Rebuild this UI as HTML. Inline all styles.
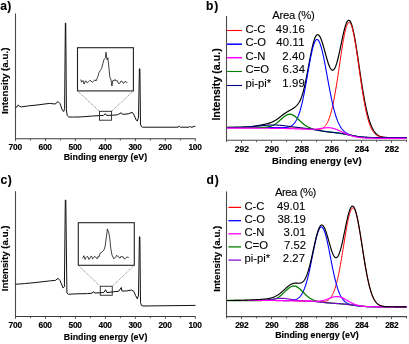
<!DOCTYPE html>
<html><head><meta charset="utf-8"><style>
html,body{margin:0;padding:0;background:#fff;}
svg{display:block;font-family:"Liberation Sans",sans-serif;will-change:transform;}
text[font-weight=bold]{stroke:#000;stroke-width:0.15px;}
text[font-weight=normal]{stroke:#000;stroke-width:0.1px;}
</style></head><body>
<svg width="409" height="344" viewBox="0 0 409 344">
<rect width="409" height="344" fill="#fff"/>
<line x1="15.5" y1="13.5" x2="15.5" y2="139.25" stroke="#4a4a4a" stroke-width="1.1" />
<line x1="15.2" y1="138.75" x2="195.6" y2="138.75" stroke="#3a3a3a" stroke-width="1.1" />
<line x1="15.5" y1="138.75" x2="15.5" y2="141.15" stroke="#4a4a4a" stroke-width="0.9" />
<line x1="30.48" y1="138.75" x2="30.48" y2="140.45" stroke="#4a4a4a" stroke-width="0.9" />
<line x1="45.47" y1="138.75" x2="45.47" y2="141.15" stroke="#4a4a4a" stroke-width="0.9" />
<line x1="60.45" y1="138.75" x2="60.45" y2="140.45" stroke="#4a4a4a" stroke-width="0.9" />
<line x1="75.43" y1="138.75" x2="75.43" y2="141.15" stroke="#4a4a4a" stroke-width="0.9" />
<line x1="90.42" y1="138.75" x2="90.42" y2="140.45" stroke="#4a4a4a" stroke-width="0.9" />
<line x1="105.4" y1="138.75" x2="105.4" y2="141.15" stroke="#4a4a4a" stroke-width="0.9" />
<line x1="120.38" y1="138.75" x2="120.38" y2="140.45" stroke="#4a4a4a" stroke-width="0.9" />
<line x1="135.37" y1="138.75" x2="135.37" y2="141.15" stroke="#4a4a4a" stroke-width="0.9" />
<line x1="150.35" y1="138.75" x2="150.35" y2="140.45" stroke="#4a4a4a" stroke-width="0.9" />
<line x1="165.33" y1="138.75" x2="165.33" y2="141.15" stroke="#4a4a4a" stroke-width="0.9" />
<line x1="180.32" y1="138.75" x2="180.32" y2="140.45" stroke="#4a4a4a" stroke-width="0.9" />
<line x1="195.3" y1="138.75" x2="195.3" y2="141.15" stroke="#4a4a4a" stroke-width="0.9" />
<text x="15.2" y="149.9" font-size="8.4" font-weight="bold" text-anchor="middle" fill="#000" letter-spacing="-0.25">700</text>
<text x="45.17" y="149.9" font-size="8.4" font-weight="bold" text-anchor="middle" fill="#000" letter-spacing="-0.25">600</text>
<text x="75.13" y="149.9" font-size="8.4" font-weight="bold" text-anchor="middle" fill="#000" letter-spacing="-0.25">500</text>
<text x="105.1" y="149.9" font-size="8.4" font-weight="bold" text-anchor="middle" fill="#000" letter-spacing="-0.25">400</text>
<text x="135.07" y="149.9" font-size="8.4" font-weight="bold" text-anchor="middle" fill="#000" letter-spacing="-0.25">300</text>
<text x="165.03" y="149.9" font-size="8.4" font-weight="bold" text-anchor="middle" fill="#000" letter-spacing="-0.25">200</text>
<text x="195" y="149.9" font-size="8.4" font-weight="bold" text-anchor="middle" fill="#000" letter-spacing="-0.25">100</text>
<text x="105.45" y="160.25" font-size="8.85" font-weight="bold" text-anchor="middle" fill="#000">Binding energy (eV)</text>
<text transform="translate(8.4,113.9) rotate(-90)" font-size="9.8" font-weight="bold" fill="#000">Intensity (a.u.)</text>
<text x="0.2" y="9.6" font-size="12" font-weight="bold" text-anchor="start" fill="#000" letter-spacing="0.3">a)</text>
<polyline points="15.5,107.3 17,106.9 18.25,104.9 19.5,106.3 21.4,106.9 28.25,105.9 37,105 49.5,103.4 55.1,104 58.1,101.6 60,103.5 62.5,110.6 63.75,111.5 64.6,108.5 65.35,23 65.75,23 66.4,110 67.25,115.6 68.75,116.9 72.5,117.1 81.25,116.9 92.5,116 99.4,115.6 103.5,115.4 105.4,113.7 106.5,115.4 112.5,115.25 117.5,114.75 121.25,112.75 122.5,114.4 128.75,113.75 132.25,112.25 134,115 136.3,120.3 137.4,121 138.5,117 139.4,68.8 139.9,68.8 140.5,124 141.3,126.5 142.5,127.2 160,127.2 178,127.2 179.2,126.2 180.4,127.2 189,127.2 189.8,126.2 190.8,127.2 192,127.3 194.6,126.1 195.5,127" fill="none" stroke="#111" stroke-width="1.0" stroke-linejoin="round" />
<rect x="77.5" y="47.7" width="55.9" height="43.2" fill="none" stroke="#222" stroke-width="1.1"/>
<polyline points="80.75,79.5 81.6,82.25 82.9,80.4 84.1,84.1 85.4,81 86.33,81.11 87.25,82.9 88.5,81.79 89.75,80.4 91,80.91 92.25,82.25 93.5,81.33 94.75,79.75 96,81 97.9,76.6 99.1,72.25 100.4,70.4 101.6,68.5 102.9,63.5 104.1,59.1 105.4,57.9 106,52.25 107,59.75 107.9,57.9 108.75,66 109.75,76.6 111,79.75 111.9,86 112.9,80.4 113.93,81 114.97,79.41 116,81 117.25,80.69 118.5,83.5 119.75,83.33 121,81 122.25,81.48 123.5,83.5 124.75,81.7 126,81.6 127.5,83.1" fill="none" stroke="#111" stroke-width="0.8" stroke-linejoin="round" />
<rect x="99.5" y="111.3" width="12.1" height="8.9" fill="none" stroke="#222" stroke-width="0.9"/>
<line x1="77.5" y1="90.9" x2="99.5" y2="111.3" stroke="#666" stroke-width="0.7" stroke-dasharray="1.2 0.8"/>
<line x1="133.4" y1="90.9" x2="111.6" y2="111.3" stroke="#666" stroke-width="0.7" stroke-dasharray="1.2 0.8"/>
<line x1="15.5" y1="191.2" x2="15.5" y2="317" stroke="#4a4a4a" stroke-width="1.1" />
<line x1="15.2" y1="316.5" x2="195.6" y2="316.5" stroke="#3a3a3a" stroke-width="1.1" />
<line x1="15.5" y1="316.5" x2="15.5" y2="318.9" stroke="#4a4a4a" stroke-width="0.9" />
<line x1="30.48" y1="316.5" x2="30.48" y2="318.2" stroke="#4a4a4a" stroke-width="0.9" />
<line x1="45.47" y1="316.5" x2="45.47" y2="318.9" stroke="#4a4a4a" stroke-width="0.9" />
<line x1="60.45" y1="316.5" x2="60.45" y2="318.2" stroke="#4a4a4a" stroke-width="0.9" />
<line x1="75.43" y1="316.5" x2="75.43" y2="318.9" stroke="#4a4a4a" stroke-width="0.9" />
<line x1="90.42" y1="316.5" x2="90.42" y2="318.2" stroke="#4a4a4a" stroke-width="0.9" />
<line x1="105.4" y1="316.5" x2="105.4" y2="318.9" stroke="#4a4a4a" stroke-width="0.9" />
<line x1="120.38" y1="316.5" x2="120.38" y2="318.2" stroke="#4a4a4a" stroke-width="0.9" />
<line x1="135.37" y1="316.5" x2="135.37" y2="318.9" stroke="#4a4a4a" stroke-width="0.9" />
<line x1="150.35" y1="316.5" x2="150.35" y2="318.2" stroke="#4a4a4a" stroke-width="0.9" />
<line x1="165.33" y1="316.5" x2="165.33" y2="318.9" stroke="#4a4a4a" stroke-width="0.9" />
<line x1="180.32" y1="316.5" x2="180.32" y2="318.2" stroke="#4a4a4a" stroke-width="0.9" />
<line x1="195.3" y1="316.5" x2="195.3" y2="318.9" stroke="#4a4a4a" stroke-width="0.9" />
<text x="15.2" y="327.5" font-size="8.4" font-weight="bold" text-anchor="middle" fill="#000" letter-spacing="-0.25">700</text>
<text x="45.17" y="327.5" font-size="8.4" font-weight="bold" text-anchor="middle" fill="#000" letter-spacing="-0.25">600</text>
<text x="75.13" y="327.5" font-size="8.4" font-weight="bold" text-anchor="middle" fill="#000" letter-spacing="-0.25">500</text>
<text x="105.1" y="327.5" font-size="8.4" font-weight="bold" text-anchor="middle" fill="#000" letter-spacing="-0.25">400</text>
<text x="135.07" y="327.5" font-size="8.4" font-weight="bold" text-anchor="middle" fill="#000" letter-spacing="-0.25">300</text>
<text x="165.03" y="327.5" font-size="8.4" font-weight="bold" text-anchor="middle" fill="#000" letter-spacing="-0.25">200</text>
<text x="195" y="327.5" font-size="8.4" font-weight="bold" text-anchor="middle" fill="#000" letter-spacing="-0.25">100</text>
<text x="105.6" y="339.5" font-size="8.85" font-weight="bold" text-anchor="middle" fill="#000">Binding energy (eV)</text>
<text transform="translate(8.4,291.2) rotate(-90)" font-size="9.7" font-weight="bold" fill="#000">Intensity (a.u.)</text>
<text x="0.4" y="183.8" font-size="12" font-weight="bold" text-anchor="start" fill="#000" letter-spacing="0.6">c)</text>
<polyline points="15.5,284.25 24.5,283.6 37,282.4 49.5,280.9 55.4,280.4 58.1,278.25 60,280.5 63.1,288 64.4,286.75 65.3,200 65.8,200 66.9,293 68.5,294.25 75,293.9 87.5,293.6 92,293.2 93.1,291.75 95,293 100,292.75 103.75,292.5 105.6,289.75 106.9,292.6 112.5,291.9 118.75,291.25 121.25,287.5 121.9,291 126.25,291 131.25,290 133.75,291.25 135.6,295.6 137.4,298.9 138.5,295 139.4,236.8 139.9,236.8 140.5,302.5 141.4,305.4 143,306 195.5,305.4" fill="none" stroke="#111" stroke-width="1.0" stroke-linejoin="round" />
<rect x="78.3" y="222.7" width="56" height="42.6" fill="none" stroke="#222" stroke-width="1.1"/>
<polyline points="82.6,258.25 83.9,255.75 85.1,259.5 86.05,257.39 87,256.4 87.95,256.83 88.9,259.5 89.83,258.43 90.75,256.4 91.67,256.28 92.6,258.9 93.55,257.76 94.5,256.4 95.75,257.22 97,258.9 97.95,256.54 98.9,257 100.1,253.25 102,252 103.9,250.1 105.1,246.4 106.4,237 107.4,228.9 108.9,233.25 109.75,238.25 110.75,248.25 112,255.1 113.9,258.9 114.83,257.97 115.75,257 116.67,255.22 117.6,256.4 118.85,257.11 120.1,258.25 121.05,256.25 122,257 123.25,256.82 124.5,259.25 125.75,257.88 127,257 128.75,257.5" fill="none" stroke="#111" stroke-width="0.8" stroke-linejoin="round" />
<rect x="100.25" y="286.25" width="12" height="9" fill="none" stroke="#222" stroke-width="0.9"/>
<line x1="78.3" y1="265.3" x2="100.25" y2="286.25" stroke="#666" stroke-width="0.7" stroke-dasharray="1.2 0.8"/>
<line x1="134.3" y1="265.3" x2="112.25" y2="286.25" stroke="#666" stroke-width="0.7" stroke-dasharray="1.2 0.8"/>
<polyline points="226.5,127.48 227,127.48 227.5,127.48 228,127.48 228.5,127.47 229,127.47 229.5,127.47 230,127.46 230.5,127.46 231,127.46 231.5,127.45 232,127.45 232.5,127.44 233,127.44 233.5,127.43 234,127.43 234.5,127.42 235,127.41 235.5,127.4 236,127.39 236.5,127.38 237,127.37 237.5,127.36 238,127.35 238.5,127.34 239,127.33 239.5,127.31 240,127.3 240.5,127.28 241,127.26 241.5,127.24 242,127.22 242.5,127.2 243,127.18 243.5,127.16 244,127.13 244.5,127.1 245,127.07 245.5,127.04 246,127.01 246.5,126.98 247,126.94 247.5,126.91 248,126.87 248.5,126.82 249,126.78 249.5,126.74 250,126.69 250.5,126.64 251,126.59 251.5,126.53 252,126.47 252.5,126.42 253,126.35 253.5,126.29 254,126.22 254.5,126.16 255,126.09 255.5,126.01 256,125.94 256.5,125.86 257,125.78 257.5,125.7 258,125.62 258.5,125.53 259,125.44 259.5,125.35 260,125.26 260.5,125.17 261,125.07 261.5,124.97 262,124.87 262.5,124.77 263,124.67 263.5,124.56 264,124.45 264.5,124.34 265,124.23 265.5,124.11 266,123.99 266.5,123.86 267,123.73 267.5,123.6 268,123.46 268.5,123.31 269,123.16 269.5,123 270,122.83 270.5,122.65 271,122.46 271.5,122.27 272,122.06 272.5,121.84 273,121.61 273.5,121.36 274,121.11 274.5,120.84 275,120.55 275.5,120.26 276,119.95 276.5,119.62 277,119.29 277.5,118.94 278,118.58 278.5,118.21 279,117.83 279.5,117.45 280,117.06 280.5,116.67 281,116.27 281.5,115.87 282,115.48 282.5,115.09 283,114.7 283.5,114.33 284,113.96 284.5,113.6 285,113.25 285.5,112.91 286,112.59 286.5,112.27 287,111.97 287.5,111.68 288,111.39 288.5,111.11 289,110.84 289.5,110.56 290,110.29 290.5,110.01 291,109.73 291.5,109.44 292,109.14 292.5,108.83 293,108.5 293.5,108.16 294,107.81 294.5,107.43 295,107.04 295.5,106.62 296,106.17 296.5,105.68 297,105.16 297.5,104.58 298,103.95 298.5,103.26 299,102.48 299.5,101.63 300,100.67 300.5,99.62 301,98.44 301.5,97.15 302,95.73 302.5,94.17 303,92.49 303.5,90.66 304,88.71 304.5,86.63 305,84.42 305.5,82.11 306,79.69 306.5,77.18 307,74.6 307.5,71.95 308,69.27 308.5,66.56 309,63.84 309.5,61.14 310,58.47 310.5,55.85 311,53.31 311.5,50.86 312,48.52 312.5,46.31 313,44.25 313.5,42.36 314,40.65 314.5,39.13 315,37.82 315.5,36.74 316,35.88 316.5,35.25 317,34.86 317.5,34.7 318,34.74 318.5,34.98 319,35.42 319.5,36.04 320,36.85 320.5,37.82 321,38.96 321.5,40.24 322,41.66 322.5,43.2 323,44.83 323.5,46.55 324,48.33 324.5,50.16 325,52.01 325.5,53.86 326,55.7 326.5,57.51 327,59.26 327.5,60.93 328,62.52 328.5,64 329,65.35 329.5,66.56 330,67.61 330.5,68.5 331,69.21 331.5,69.74 332,70.07 332.5,70.19 333,70.12 333.5,69.83 334,69.34 334.5,68.64 335,67.74 335.5,66.64 336,65.35 336.5,63.88 337,62.23 337.5,60.43 338,58.49 338.5,56.42 339,54.24 339.5,51.96 340,49.62 340.5,47.23 341,44.81 341.5,42.38 342,39.98 342.5,37.61 343,35.31 343.5,33.1 344,31 344.5,29.03 345,27.21 345.5,25.57 346,24.13 346.5,22.88 347,21.87 347.5,21.09 348,20.56 348.5,20.28 349,20.26 349.5,20.52 350,21.03 350.5,21.82 351,22.87 351.5,24.17 352,25.73 352.5,27.52 353,29.54 353.5,31.78 354,34.21 354.5,36.83 355,39.61 355.5,42.54 356,45.59 356.5,48.76 357,52.01 357.5,55.33 358,58.71 358.5,62.11 359,65.53 359.5,68.94 360,72.34 360.5,75.7 361,79.02 361.5,82.28 362,85.47 362.5,88.57 363,91.59 363.5,94.51 364,97.33 364.5,100.04 365,102.65 365.5,105.14 366,107.51 366.5,109.77 367,111.92 367.5,113.95 368,115.87 368.5,117.67 369,119.37 369.5,120.96 370,122.44 370.5,123.83 371,125.12 371.5,126.32 372,127.43 372.5,128.45 373,129.39 373.5,130.26 374,131.05 374.5,131.77 375,132.43 375.5,133.03 376,133.57 376.5,134.06 377,134.5 377.5,134.89 378,135.24 378.5,135.55 379,135.83 379.5,136.07 380,136.29 380.5,136.48 381,136.64 381.5,136.79 382,136.91 382.5,137.02 383,137.11 383.5,137.19 384,137.26 384.5,137.31 385,137.36 385.5,137.4 386,137.44 386.5,137.47 387,137.49 387.5,137.51 388,137.53 388.5,137.54 389,137.55 389.5,137.56 390,137.57 390.5,137.58 391,137.58 391.5,137.58 392,137.59 392.5,137.59 393,137.59 393.5,137.59 394,137.6 394.5,137.6 395,137.6 395.5,137.6 396,137.6 396.5,137.6 397,137.6 397.5,137.6 398,137.6 398.5,137.6 399,137.6 399.5,137.6 400,137.6 400.5,137.6 401,137.6 401.5,137.6 402,137.6 402.5,137.6 403,137.6 403.5,137.6 404,137.6 404.5,137.6 405,137.6 405.5,137.6 406,137.6 406.5,137.6" fill="none" stroke="#000" stroke-width="1.2" stroke-linejoin="round" />
<polyline points="226.5,127.5 227,127.5 227.5,127.5 228,127.5 228.5,127.5 229,127.5 229.5,127.5 230,127.5 230.5,127.5 231,127.5 231.5,127.5 232,127.5 232.5,127.5 233,127.5 233.5,127.5 234,127.5 234.5,127.5 235,127.5 235.5,127.5 236,127.5 236.5,127.5 237,127.5 237.5,127.5 238,127.5 238.5,127.5 239,127.5 239.5,127.5 240,127.5 240.5,127.5 241,127.5 241.5,127.5 242,127.5 242.5,127.5 243,127.5 243.5,127.5 244,127.5 244.5,127.5 245,127.5 245.5,127.5 246,127.51 246.5,127.51 247,127.51 247.5,127.51 248,127.51 248.5,127.51 249,127.51 249.5,127.51 250,127.51 250.5,127.51 251,127.51 251.5,127.51 252,127.51 252.5,127.51 253,127.51 253.5,127.51 254,127.52 254.5,127.52 255,127.52 255.5,127.52 256,127.52 256.5,127.52 257,127.52 257.5,127.52 258,127.52 258.5,127.53 259,127.53 259.5,127.53 260,127.53 260.5,127.53 261,127.53 261.5,127.54 262,127.54 262.5,127.54 263,127.54 263.5,127.54 264,127.55 264.5,127.55 265,127.55 265.5,127.55 266,127.55 266.5,127.56 267,127.56 267.5,127.56 268,127.56 268.5,127.57 269,127.57 269.5,127.57 270,127.58 270.5,127.58 271,127.58 271.5,127.59 272,127.59 272.5,127.59 273,127.6 273.5,127.6 274,127.61 274.5,127.61 275,127.62 275.5,127.62 276,127.63 276.5,127.64 277,127.64 277.5,127.65 278,127.66 278.5,127.66 279,127.67 279.5,127.68 280,127.69 280.5,127.7 281,127.71 281.5,127.72 282,127.73 282.5,127.74 283,127.75 283.5,127.76 284,127.77 284.5,127.78 285,127.8 285.5,127.81 286,127.82 286.5,127.84 287,127.85 287.5,127.86 288,127.88 288.5,127.89 289,127.91 289.5,127.92 290,127.94 290.5,127.95 291,127.97 291.5,127.98 292,128 292.5,128.01 293,128.03 293.5,128.05 294,128.06 294.5,128.08 295,128.09 295.5,128.11 296,128.13 296.5,128.15 297,128.16 297.5,128.18 298,128.2 298.5,128.22 299,128.24 299.5,128.26 300,128.28 300.5,128.31 301,128.33 301.5,128.36 302,128.38 302.5,128.41 303,128.44 303.5,128.47 304,128.51 304.5,128.54 305,128.58 305.5,128.62 306,128.66 306.5,128.7 307,128.75 307.5,128.79 308,128.84 308.5,128.89 309,128.94 309.5,129 310,129.05 310.5,129.11 311,129.16 311.5,129.22 312,129.28 312.5,129.33 313,129.39 313.5,129.44 314,129.49 314.5,129.54 315,129.58 315.5,129.61 316,129.64 316.5,129.66 317,129.67 317.5,129.66 318,129.65 318.5,129.61 319,129.56 319.5,129.48 320,129.38 320.5,129.26 321,129.1 321.5,128.91 322,128.68 322.5,128.4 323,128.09 323.5,127.72 324,127.29 324.5,126.8 325,126.25 325.5,125.63 326,124.93 326.5,124.15 327,123.28 327.5,122.31 328,121.25 328.5,120.08 329,118.81 329.5,117.42 330,115.91 330.5,114.28 331,112.52 331.5,110.64 332,108.63 332.5,106.48 333,104.21 333.5,101.8 334,99.27 334.5,96.62 335,93.85 335.5,90.96 336,87.97 336.5,84.88 337,81.7 337.5,78.45 338,75.14 338.5,71.78 339,68.38 339.5,64.98 340,61.57 340.5,58.19 341,54.84 341.5,51.56 342,48.35 342.5,45.25 343,42.27 343.5,39.43 344,36.76 344.5,34.26 345,31.96 345.5,29.88 346,28.03 346.5,26.43 347,25.09 347.5,24.02 348,23.23 348.5,22.72 349,22.5 349.5,22.58 350,22.94 350.5,23.6 351,24.54 351.5,25.76 352,27.26 352.5,29.01 353,31 353.5,33.23 354,35.68 354.5,38.32 355,41.14 355.5,44.13 356,47.25 356.5,50.5 357,53.85 357.5,57.27 358,60.76 358.5,64.28 359,67.82 359.5,71.36 360,74.89 360.5,78.38 361,81.82 361.5,85.2 362,88.5 362.5,91.71 363,94.83 363.5,97.83 364,100.72 364.5,103.49 365,106.13 365.5,108.65 366,111.03 366.5,113.28 367,115.39 367.5,117.38 368,119.23 368.5,120.96 369,122.56 369.5,124.05 370,125.42 370.5,126.68 371,127.83 371.5,128.89 372,129.85 372.5,130.73 373,131.52 373.5,132.23 374,132.87 374.5,133.45 375,133.96 375.5,134.42 376,134.83 376.5,135.2 377,135.52 377.5,135.8 378,136.05 378.5,136.26 379,136.45 379.5,136.62 380,136.76 380.5,136.89 381,137 381.5,137.09 382,137.17 382.5,137.24 383,137.29 383.5,137.34 384,137.39 384.5,137.42 385,137.45 385.5,137.48 386,137.5 386.5,137.52 387,137.53 387.5,137.54 388,137.55 388.5,137.56 389,137.57 389.5,137.57 390,137.58 390.5,137.58 391,137.59 391.5,137.59 392,137.59 392.5,137.59 393,137.59 393.5,137.6 394,137.6 394.5,137.6 395,137.6 395.5,137.6 396,137.6 396.5,137.6 397,137.6 397.5,137.6 398,137.6 398.5,137.6 399,137.6 399.5,137.6 400,137.6 400.5,137.6 401,137.6 401.5,137.6 402,137.6 402.5,137.6 403,137.6 403.5,137.6 404,137.6 404.5,137.6 405,137.6 405.5,137.6 406,137.6 406.5,137.6" fill="none" stroke="#ff0000" stroke-width="1.0" stroke-linejoin="round" />
<polyline points="226.5,127.5 227,127.5 227.5,127.5 228,127.5 228.5,127.5 229,127.5 229.5,127.5 230,127.5 230.5,127.5 231,127.5 231.5,127.5 232,127.5 232.5,127.5 233,127.5 233.5,127.5 234,127.5 234.5,127.5 235,127.5 235.5,127.5 236,127.5 236.5,127.5 237,127.5 237.5,127.5 238,127.5 238.5,127.5 239,127.5 239.5,127.5 240,127.5 240.5,127.5 241,127.5 241.5,127.5 242,127.5 242.5,127.5 243,127.5 243.5,127.5 244,127.5 244.5,127.5 245,127.5 245.5,127.5 246,127.51 246.5,127.51 247,127.51 247.5,127.51 248,127.51 248.5,127.51 249,127.51 249.5,127.51 250,127.51 250.5,127.51 251,127.51 251.5,127.51 252,127.51 252.5,127.51 253,127.51 253.5,127.51 254,127.52 254.5,127.52 255,127.52 255.5,127.52 256,127.52 256.5,127.52 257,127.52 257.5,127.52 258,127.52 258.5,127.53 259,127.53 259.5,127.53 260,127.53 260.5,127.53 261,127.53 261.5,127.54 262,127.54 262.5,127.54 263,127.54 263.5,127.54 264,127.55 264.5,127.55 265,127.55 265.5,127.55 266,127.55 266.5,127.56 267,127.56 267.5,127.56 268,127.56 268.5,127.57 269,127.57 269.5,127.57 270,127.58 270.5,127.58 271,127.58 271.5,127.59 272,127.59 272.5,127.59 273,127.6 273.5,127.6 274,127.61 274.5,127.61 275,127.61 275.5,127.62 276,127.62 276.5,127.63 277,127.63 277.5,127.64 278,127.64 278.5,127.64 279,127.65 279.5,127.65 280,127.65 280.5,127.65 281,127.65 281.5,127.65 282,127.64 282.5,127.63 283,127.62 283.5,127.61 284,127.59 284.5,127.56 285,127.53 285.5,127.49 286,127.44 286.5,127.38 287,127.31 287.5,127.23 288,127.12 288.5,127.01 289,126.87 289.5,126.7 290,126.51 290.5,126.3 291,126.05 291.5,125.76 292,125.43 292.5,125.06 293,124.64 293.5,124.17 294,123.63 294.5,123.04 295,122.38 295.5,121.64 296,120.83 296.5,119.93 297,118.94 297.5,117.87 298,116.69 298.5,115.42 299,114.03 299.5,112.55 300,110.95 300.5,109.24 301,107.41 301.5,105.47 302,103.42 302.5,101.26 303,99 303.5,96.63 304,94.16 304.5,91.61 305,88.97 305.5,86.27 306,83.5 306.5,80.68 307,77.83 307.5,74.96 308,72.09 308.5,69.23 309,66.4 309.5,63.61 310,60.9 310.5,58.27 311,55.74 311.5,53.34 312,51.07 312.5,48.97 313,47.04 313.5,45.3 314,43.76 314.5,42.45 315,41.36 315.5,40.51 316,39.91 316.5,39.56 317,39.47 317.5,39.62 318,39.98 318.5,40.57 319,41.36 319.5,42.36 320,43.56 320.5,44.96 321,46.53 321.5,48.28 322,50.18 322.5,52.24 323,54.43 323.5,56.74 324,59.16 324.5,61.67 325,64.26 325.5,66.91 326,69.61 326.5,72.34 327,75.09 327.5,77.85 328,80.61 328.5,83.34 329,86.05 329.5,88.71 330,91.32 330.5,93.88 331,96.36 331.5,98.77 332,101.1 332.5,103.35 333,105.51 333.5,107.57 334,109.54 334.5,111.42 335,113.19 335.5,114.88 336,116.46 336.5,117.96 337,119.36 337.5,120.67 338,121.89 338.5,123.03 339,124.09 339.5,125.08 340,125.99 340.5,126.83 341,127.61 341.5,128.33 342,128.99 342.5,129.6 343,130.16 343.5,130.67 344,131.15 344.5,131.58 345,131.99 345.5,132.35 346,132.69 346.5,133.01 347,133.3 347.5,133.57 348,133.82 348.5,134.05 349,134.27 349.5,134.47 350,134.66 350.5,134.83 351,135 351.5,135.16 352,135.31 352.5,135.45 353,135.58 353.5,135.7 354,135.82 354.5,135.94 355,136.05 355.5,136.15 356,136.24 356.5,136.34 357,136.43 357.5,136.51 358,136.59 358.5,136.66 359,136.73 359.5,136.8 360,136.86 360.5,136.92 361,136.98 361.5,137.03 362,137.08 362.5,137.12 363,137.17 363.5,137.21 364,137.24 364.5,137.28 365,137.31 365.5,137.34 366,137.36 366.5,137.39 367,137.41 367.5,137.43 368,137.45 368.5,137.47 369,137.48 369.5,137.49 370,137.51 370.5,137.52 371,137.53 371.5,137.54 372,137.54 372.5,137.55 373,137.56 373.5,137.56 374,137.57 374.5,137.57 375,137.58 375.5,137.58 376,137.58 376.5,137.58 377,137.59 377.5,137.59 378,137.59 378.5,137.59 379,137.59 379.5,137.59 380,137.6 380.5,137.6 381,137.6 381.5,137.6 382,137.6 382.5,137.6 383,137.6 383.5,137.6 384,137.6 384.5,137.6 385,137.6 385.5,137.6 386,137.6 386.5,137.6 387,137.6 387.5,137.6 388,137.6 388.5,137.6 389,137.6 389.5,137.6 390,137.6 390.5,137.6 391,137.6 391.5,137.6 392,137.6 392.5,137.6 393,137.6 393.5,137.6 394,137.6 394.5,137.6 395,137.6 395.5,137.6 396,137.6 396.5,137.6 397,137.6 397.5,137.6 398,137.6 398.5,137.6 399,137.6 399.5,137.6 400,137.6 400.5,137.6 401,137.6 401.5,137.6 402,137.6 402.5,137.6 403,137.6 403.5,137.6 404,137.6 404.5,137.6 405,137.6 405.5,137.6 406,137.6 406.5,137.6" fill="none" stroke="#0000ff" stroke-width="1.1" stroke-linejoin="round" />
<polyline points="226.5,127.5 227,127.5 227.5,127.5 228,127.5 228.5,127.5 229,127.5 229.5,127.5 230,127.5 230.5,127.5 231,127.5 231.5,127.5 232,127.5 232.5,127.5 233,127.5 233.5,127.5 234,127.5 234.5,127.5 235,127.5 235.5,127.5 236,127.5 236.5,127.5 237,127.5 237.5,127.5 238,127.5 238.5,127.5 239,127.5 239.5,127.5 240,127.5 240.5,127.5 241,127.5 241.5,127.5 242,127.5 242.5,127.5 243,127.5 243.5,127.5 244,127.5 244.5,127.5 245,127.5 245.5,127.5 246,127.51 246.5,127.51 247,127.51 247.5,127.51 248,127.51 248.5,127.51 249,127.51 249.5,127.51 250,127.51 250.5,127.51 251,127.51 251.5,127.51 252,127.51 252.5,127.51 253,127.51 253.5,127.51 254,127.51 254.5,127.51 255,127.51 255.5,127.51 256,127.51 256.5,127.51 257,127.51 257.5,127.5 258,127.5 258.5,127.5 259,127.49 259.5,127.49 260,127.48 260.5,127.47 261,127.46 261.5,127.44 262,127.43 262.5,127.41 263,127.39 263.5,127.36 264,127.33 264.5,127.3 265,127.26 265.5,127.21 266,127.16 266.5,127.1 267,127.04 267.5,126.96 268,126.87 268.5,126.78 269,126.67 269.5,126.55 270,126.42 270.5,126.27 271,126.11 271.5,125.93 272,125.74 272.5,125.53 273,125.3 273.5,125.05 274,124.79 274.5,124.5 275,124.2 275.5,123.88 276,123.54 276.5,123.19 277,122.82 277.5,122.43 278,122.02 278.5,121.61 279,121.18 279.5,120.74 280,120.3 280.5,119.85 281,119.4 281.5,118.95 282,118.5 282.5,118.06 283,117.62 283.5,117.2 284,116.8 284.5,116.42 285,116.06 285.5,115.72 286,115.41 286.5,115.13 287,114.89 287.5,114.68 288,114.51 288.5,114.38 289,114.29 289.5,114.24 290,114.24 290.5,114.27 291,114.35 291.5,114.47 292,114.63 292.5,114.83 293,115.07 293.5,115.34 294,115.65 294.5,115.99 295,116.35 295.5,116.75 296,117.16 296.5,117.59 297,118.04 297.5,118.5 298,118.97 298.5,119.45 299,119.93 299.5,120.41 300,120.9 300.5,121.37 301,121.84 301.5,122.3 302,122.75 302.5,123.19 303,123.62 303.5,124.03 304,124.42 304.5,124.8 305,125.17 305.5,125.51 306,125.84 306.5,126.16 307,126.45 307.5,126.74 308,127 308.5,127.25 309,127.49 309.5,127.72 310,127.93 310.5,128.13 311,128.32 311.5,128.5 312,128.67 312.5,128.83 313,128.98 313.5,129.13 314,129.27 314.5,129.41 315,129.54 315.5,129.66 316,129.78 316.5,129.9 317,130.01 317.5,130.12 318,130.22 318.5,130.33 319,130.43 319.5,130.52 320,130.62 320.5,130.71 321,130.8 321.5,130.89 322,130.97 322.5,131.06 323,131.14 323.5,131.22 324,131.3 324.5,131.37 325,131.45 325.5,131.52 326,131.59 326.5,131.66 327,131.72 327.5,131.79 328,131.85 328.5,131.91 329,131.97 329.5,132.03 330,132.09 330.5,132.14 331,132.2 331.5,132.26 332,132.31 332.5,132.37 333,132.42 333.5,132.47 334,132.53 334.5,132.59 335,132.64 335.5,132.7 336,132.76 336.5,132.82 337,132.88 337.5,132.94 338,133.01 338.5,133.07 339,133.14 339.5,133.21 340,133.28 340.5,133.36 341,133.44 341.5,133.52 342,133.6 342.5,133.68 343,133.77 343.5,133.86 344,133.95 344.5,134.04 345,134.14 345.5,134.23 346,134.33 346.5,134.43 347,134.53 347.5,134.64 348,134.74 348.5,134.84 349,134.95 349.5,135.05 350,135.16 350.5,135.26 351,135.36 351.5,135.46 352,135.57 352.5,135.67 353,135.76 353.5,135.86 354,135.95 354.5,136.05 355,136.14 355.5,136.22 356,136.31 356.5,136.39 357,136.47 357.5,136.54 358,136.62 358.5,136.69 359,136.75 359.5,136.82 360,136.88 360.5,136.93 361,136.99 361.5,137.04 362,137.08 362.5,137.13 363,137.17 363.5,137.21 364,137.25 364.5,137.28 365,137.31 365.5,137.34 366,137.36 366.5,137.39 367,137.41 367.5,137.43 368,137.45 368.5,137.47 369,137.48 369.5,137.49 370,137.51 370.5,137.52 371,137.53 371.5,137.54 372,137.54 372.5,137.55 373,137.56 373.5,137.56 374,137.57 374.5,137.57 375,137.58 375.5,137.58 376,137.58 376.5,137.58 377,137.59 377.5,137.59 378,137.59 378.5,137.59 379,137.59 379.5,137.59 380,137.6 380.5,137.6 381,137.6 381.5,137.6 382,137.6 382.5,137.6 383,137.6 383.5,137.6 384,137.6 384.5,137.6 385,137.6 385.5,137.6 386,137.6 386.5,137.6 387,137.6 387.5,137.6 388,137.6 388.5,137.6 389,137.6 389.5,137.6 390,137.6 390.5,137.6 391,137.6 391.5,137.6 392,137.6 392.5,137.6 393,137.6 393.5,137.6 394,137.6 394.5,137.6 395,137.6 395.5,137.6 396,137.6 396.5,137.6 397,137.6 397.5,137.6 398,137.6 398.5,137.6 399,137.6 399.5,137.6 400,137.6 400.5,137.6 401,137.6 401.5,137.6 402,137.6 402.5,137.6 403,137.6 403.5,137.6 404,137.6 404.5,137.6 405,137.6 405.5,137.6 406,137.6 406.5,137.6" fill="none" stroke="#008000" stroke-width="1.3" stroke-linejoin="round" />
<polyline points="226.5,127.48 227,127.48 227.5,127.48 228,127.48 228.5,127.47 229,127.47 229.5,127.47 230,127.46 230.5,127.46 231,127.46 231.5,127.45 232,127.45 232.5,127.44 233,127.44 233.5,127.43 234,127.43 234.5,127.42 235,127.41 235.5,127.4 236,127.4 236.5,127.39 237,127.38 237.5,127.37 238,127.36 238.5,127.34 239,127.33 239.5,127.32 240,127.3 240.5,127.29 241,127.27 241.5,127.25 242,127.24 242.5,127.22 243,127.2 243.5,127.17 244,127.15 244.5,127.13 245,127.1 245.5,127.08 246,127.05 246.5,127.02 247,126.99 247.5,126.96 248,126.93 248.5,126.89 249,126.86 249.5,126.82 250,126.79 250.5,126.75 251,126.71 251.5,126.67 252,126.63 252.5,126.58 253,126.54 253.5,126.49 254,126.45 254.5,126.4 255,126.35 255.5,126.3 256,126.25 256.5,126.2 257,126.15 257.5,126.1 258,126.05 258.5,126 259,125.95 259.5,125.9 260,125.85 260.5,125.8 261,125.75 261.5,125.7 262,125.65 262.5,125.6 263,125.55 263.5,125.51 264,125.46 264.5,125.42 265,125.38 265.5,125.34 266,125.3 266.5,125.26 267,125.23 267.5,125.19 268,125.16 268.5,125.14 269,125.11 269.5,125.09 270,125.07 270.5,125.05 271,125.03 271.5,125.02 272,125.01 272.5,125.01 273,125 273.5,125 274,125.01 274.5,125.01 275,125.02 275.5,125.04 276,125.05 276.5,125.07 277,125.09 277.5,125.12 278,125.15 278.5,125.18 279,125.21 279.5,125.25 280,125.29 280.5,125.33 281,125.37 281.5,125.42 282,125.47 282.5,125.52 283,125.58 283.5,125.63 284,125.69 284.5,125.75 285,125.81 285.5,125.87 286,125.93 286.5,126 287,126.06 287.5,126.13 288,126.2 288.5,126.26 289,126.33 289.5,126.4 290,126.46 290.5,126.53 291,126.6 291.5,126.67 292,126.73 292.5,126.8 293,126.86 293.5,126.93 294,126.99 294.5,127.06 295,127.12 295.5,127.18 296,127.24 296.5,127.3 297,127.36 297.5,127.42 298,127.48 298.5,127.54 299,127.59 299.5,127.65 300,127.71 300.5,127.76 301,127.82 301.5,127.87 302,127.93 302.5,127.99 303,128.04 303.5,128.1 304,128.16 304.5,128.22 305,128.28 305.5,128.34 306,128.4 306.5,128.46 307,128.52 307.5,128.59 308,128.66 308.5,128.73 309,128.8 309.5,128.87 310,128.94 310.5,129.02 311,129.09 311.5,129.17 312,129.25 312.5,129.34 313,129.42 313.5,129.5 314,129.59 314.5,129.67 315,129.76 315.5,129.85 316,129.94 316.5,130.03 317,130.12 317.5,130.21 318,130.3 318.5,130.38 319,130.47 319.5,130.56 320,130.65 320.5,130.73 321,130.82 321.5,130.9 322,130.98 322.5,131.06 323,131.14 323.5,131.22 324,131.3 324.5,131.37 325,131.44 325.5,131.52 326,131.59 326.5,131.65 327,131.72 327.5,131.78 328,131.85 328.5,131.91 329,131.97 329.5,132.03 330,132.09 330.5,132.14 331,132.2 331.5,132.25 332,132.31 332.5,132.36 333,132.42 333.5,132.47 334,132.53 334.5,132.58 335,132.64 335.5,132.7 336,132.76 336.5,132.82 337,132.88 337.5,132.94 338,133.01 338.5,133.07 339,133.14 339.5,133.21 340,133.28 340.5,133.36 341,133.44 341.5,133.52 342,133.6 342.5,133.68 343,133.77 343.5,133.86 344,133.95 344.5,134.04 345,134.14 345.5,134.23 346,134.33 346.5,134.43 347,134.53 347.5,134.64 348,134.74 348.5,134.84 349,134.95 349.5,135.05 350,135.16 350.5,135.26 351,135.36 351.5,135.46 352,135.57 352.5,135.67 353,135.76 353.5,135.86 354,135.95 354.5,136.05 355,136.14 355.5,136.22 356,136.31 356.5,136.39 357,136.47 357.5,136.54 358,136.62 358.5,136.69 359,136.75 359.5,136.82 360,136.88 360.5,136.93 361,136.99 361.5,137.04 362,137.08 362.5,137.13 363,137.17 363.5,137.21 364,137.25 364.5,137.28 365,137.31 365.5,137.34 366,137.36 366.5,137.39 367,137.41 367.5,137.43 368,137.45 368.5,137.47 369,137.48 369.5,137.49 370,137.51 370.5,137.52 371,137.53 371.5,137.54 372,137.54 372.5,137.55 373,137.56 373.5,137.56 374,137.57 374.5,137.57 375,137.58 375.5,137.58 376,137.58 376.5,137.58 377,137.59 377.5,137.59 378,137.59 378.5,137.59 379,137.59 379.5,137.59 380,137.6 380.5,137.6 381,137.6 381.5,137.6 382,137.6 382.5,137.6 383,137.6 383.5,137.6 384,137.6 384.5,137.6 385,137.6 385.5,137.6 386,137.6 386.5,137.6 387,137.6 387.5,137.6 388,137.6 388.5,137.6 389,137.6 389.5,137.6 390,137.6 390.5,137.6 391,137.6 391.5,137.6 392,137.6 392.5,137.6 393,137.6 393.5,137.6 394,137.6 394.5,137.6 395,137.6 395.5,137.6 396,137.6 396.5,137.6 397,137.6 397.5,137.6 398,137.6 398.5,137.6 399,137.6 399.5,137.6 400,137.6 400.5,137.6 401,137.6 401.5,137.6 402,137.6 402.5,137.6 403,137.6 403.5,137.6 404,137.6 404.5,137.6 405,137.6 405.5,137.6 406,137.6 406.5,137.6" fill="none" stroke="#000080" stroke-width="1.1" stroke-linejoin="round" />
<polyline points="226.5,128.2 227,128.2 227.5,128.2 228,128.2 228.5,128.2 229,128.2 229.5,128.2 230,128.2 230.5,128.2 231,128.2 231.5,128.2 232,128.2 232.5,128.2 233,128.2 233.5,128.2 234,128.2 234.5,128.2 235,128.2 235.5,128.2 236,128.2 236.5,128.2 237,128.2 237.5,128.2 238,128.2 238.5,128.2 239,128.2 239.5,128.2 240,128.2 240.5,128.2 241,128.2 241.5,128.2 242,128.2 242.5,128.2 243,128.2 243.5,128.2 244,128.2 244.5,128.2 245,128.2 245.5,128.2 246,128.21 246.5,128.21 247,128.21 247.5,128.21 248,128.21 248.5,128.21 249,128.21 249.5,128.21 250,128.21 250.5,128.21 251,128.21 251.5,128.21 252,128.21 252.5,128.21 253,128.21 253.5,128.21 254,128.22 254.5,128.22 255,128.22 255.5,128.22 256,128.22 256.5,128.22 257,128.22 257.5,128.22 258,128.22 258.5,128.23 259,128.23 259.5,128.23 260,128.23 260.5,128.23 261,128.23 261.5,128.24 262,128.24 262.5,128.24 263,128.24 263.5,128.24 264,128.25 264.5,128.25 265,128.25 265.5,128.25 266,128.25 266.5,128.26 267,128.26 267.5,128.26 268,128.26 268.5,128.27 269,128.27 269.5,128.27 270,128.28 270.5,128.28 271,128.28 271.5,128.29 272,128.29 272.5,128.29 273,128.3 273.5,128.3 274,128.31 274.5,128.31 275,128.32 275.5,128.32 276,128.33 276.5,128.34 277,128.34 277.5,128.35 278,128.36 278.5,128.36 279,128.37 279.5,128.38 280,128.39 280.5,128.4 281,128.41 281.5,128.42 282,128.43 282.5,128.44 283,128.45 283.5,128.46 284,128.47 284.5,128.48 285,128.5 285.5,128.51 286,128.52 286.5,128.54 287,128.55 287.5,128.56 288,128.58 288.5,128.59 289,128.61 289.5,128.62 290,128.64 290.5,128.65 291,128.67 291.5,128.68 292,128.7 292.5,128.71 293,128.73 293.5,128.74 294,128.76 294.5,128.77 295,128.79 295.5,128.81 296,128.82 296.5,128.84 297,128.85 297.5,128.87 298,128.89 298.5,128.9 299,128.92 299.5,128.94 300,128.95 300.5,128.97 301,128.99 301.5,129.01 302,129.03 302.5,129.04 303,129.06 303.5,129.08 304,129.1 304.5,129.12 305,129.14 305.5,129.16 306,129.17 306.5,129.19 307,129.21 307.5,129.22 308,129.24 308.5,129.25 309,129.26 309.5,129.27 310,129.28 310.5,129.28 311,129.28 311.5,129.28 312,129.28 312.5,129.27 313,129.25 313.5,129.24 314,129.22 314.5,129.19 315,129.16 315.5,129.12 316,129.08 316.5,129.03 317,128.98 317.5,128.93 318,128.87 318.5,128.8 319,128.74 319.5,128.67 320,128.59 320.5,128.52 321,128.44 321.5,128.36 322,128.29 322.5,128.21 323,128.13 323.5,128.06 324,127.99 324.5,127.93 325,127.87 325.5,127.82 326,127.78 326.5,127.74 327,127.72 327.5,127.7 328,127.69 328.5,127.7 329,127.72 329.5,127.75 330,127.79 330.5,127.85 331,127.91 331.5,128 332,128.09 332.5,128.2 333,128.32 333.5,128.45 334,128.6 334.5,128.75 335,128.92 335.5,129.1 336,129.28 336.5,129.48 337,129.68 337.5,129.89 338,130.11 338.5,130.33 339,130.55 339.5,130.78 340,131.02 340.5,131.25 341,131.49 341.5,131.72 342,131.96 342.5,132.19 343,132.42 343.5,132.65 344,132.88 344.5,133.11 345,133.33 345.5,133.54 346,133.76 346.5,133.96 347,134.17 347.5,134.37 348,134.56 348.5,134.75 349,134.93 349.5,135.1 350,135.27 350.5,135.44 351,135.6 351.5,135.75 352,135.9 352.5,136.04 353,136.18 353.5,136.31 354,136.43 354.5,136.55 355,136.67 355.5,136.78 356,136.88 356.5,136.98 357,137.07 357.5,137.16 358,137.25 358.5,137.33 359,137.4 359.5,137.47 360,137.54 360.5,137.6 361,137.66 361.5,137.71 362,137.77 362.5,137.81 363,137.86 363.5,137.9 364,137.94 364.5,137.97 365,138 365.5,138.03 366,138.06 366.5,138.08 367,138.11 367.5,138.13 368,138.15 368.5,138.16 369,138.18 369.5,138.19 370,138.21 370.5,138.22 371,138.23 371.5,138.24 372,138.24 372.5,138.25 373,138.26 373.5,138.26 374,138.27 374.5,138.27 375,138.28 375.5,138.28 376,138.28 376.5,138.28 377,138.29 377.5,138.29 378,138.29 378.5,138.29 379,138.29 379.5,138.29 380,138.3 380.5,138.3 381,138.3 381.5,138.3 382,138.3 382.5,138.3 383,138.3 383.5,138.3 384,138.3 384.5,138.3 385,138.3 385.5,138.3 386,138.3 386.5,138.3 387,138.3 387.5,138.3 388,138.3 388.5,138.3 389,138.3 389.5,138.3 390,138.3 390.5,138.3 391,138.3 391.5,138.3 392,138.3 392.5,138.3 393,138.3 393.5,138.3 394,138.3 394.5,138.3 395,138.3 395.5,138.3 396,138.3 396.5,138.3 397,138.3 397.5,138.3 398,138.3 398.5,138.3 399,138.3 399.5,138.3 400,138.3 400.5,138.3 401,138.3 401.5,138.3 402,138.3 402.5,138.3 403,138.3 403.5,138.3 404,138.3 404.5,138.3 405,138.3 405.5,138.3 406,138.3 406.5,138.3" fill="none" stroke="#ff00ff" stroke-width="1.2" stroke-linejoin="round" />
<line x1="226.5" y1="16" x2="226.5" y2="140.9" stroke="#4a4a4a" stroke-width="1.1" />
<line x1="226.1" y1="140.3" x2="407.1" y2="140.3" stroke="#4a4a4a" stroke-width="1.1" />
<line x1="226.5" y1="140.3" x2="226.5" y2="142.1" stroke="#4a4a4a" stroke-width="0.9" />
<line x1="241.5" y1="140.3" x2="241.5" y2="142.9" stroke="#4a4a4a" stroke-width="0.9" />
<text x="241.8" y="152" font-size="8.6" font-weight="bold" text-anchor="middle" fill="#000">292</text>
<line x1="256.5" y1="140.3" x2="256.5" y2="142.1" stroke="#4a4a4a" stroke-width="0.9" />
<line x1="271.5" y1="140.3" x2="271.5" y2="142.9" stroke="#4a4a4a" stroke-width="0.9" />
<text x="271.8" y="152" font-size="8.6" font-weight="bold" text-anchor="middle" fill="#000">290</text>
<line x1="286.5" y1="140.3" x2="286.5" y2="142.1" stroke="#4a4a4a" stroke-width="0.9" />
<line x1="301.5" y1="140.3" x2="301.5" y2="142.9" stroke="#4a4a4a" stroke-width="0.9" />
<text x="301.8" y="152" font-size="8.6" font-weight="bold" text-anchor="middle" fill="#000">288</text>
<line x1="316.5" y1="140.3" x2="316.5" y2="142.1" stroke="#4a4a4a" stroke-width="0.9" />
<line x1="331.5" y1="140.3" x2="331.5" y2="142.9" stroke="#4a4a4a" stroke-width="0.9" />
<text x="331.8" y="152" font-size="8.6" font-weight="bold" text-anchor="middle" fill="#000">286</text>
<line x1="346.5" y1="140.3" x2="346.5" y2="142.1" stroke="#4a4a4a" stroke-width="0.9" />
<line x1="361.5" y1="140.3" x2="361.5" y2="142.9" stroke="#4a4a4a" stroke-width="0.9" />
<text x="361.8" y="152" font-size="8.6" font-weight="bold" text-anchor="middle" fill="#000">284</text>
<line x1="376.5" y1="140.3" x2="376.5" y2="142.1" stroke="#4a4a4a" stroke-width="0.9" />
<line x1="391.5" y1="140.3" x2="391.5" y2="142.9" stroke="#4a4a4a" stroke-width="0.9" />
<text x="391.8" y="152" font-size="8.6" font-weight="bold" text-anchor="middle" fill="#000">282</text>
<line x1="406.5" y1="140.3" x2="406.5" y2="142.1" stroke="#4a4a4a" stroke-width="0.9" />
<text x="316.9" y="163.75" font-size="9.5" font-weight="bold" text-anchor="middle" fill="#000">Binding energy (eV)</text>
<text transform="translate(220.3,120.6) rotate(-90)" font-size="10.7" font-weight="bold" fill="#000">Intensity (a.u.)</text>
<text x="205.9" y="9.6" font-size="12" font-weight="bold" text-anchor="start" fill="#000" letter-spacing="1.1">b)</text>
<text x="272.3" y="18.6" font-size="11.3" font-weight="normal" text-anchor="start" fill="#000" letter-spacing="-0.3">Area (%)</text>
<text x="245.4" y="32.5" font-size="11.3" font-weight="normal" text-anchor="start" fill="#000">C-C</text>
<text x="275.7" y="32.5" font-size="11.3" font-weight="normal" text-anchor="start" fill="#000" letter-spacing="0.2">49.16</text>
<line x1="227.1" y1="30.5" x2="242" y2="30.5" stroke="#ff0000" stroke-width="1.1" />
<text x="245.4" y="46.06" font-size="11.3" font-weight="normal" text-anchor="start" fill="#000">C-O</text>
<text x="276.2" y="46.06" font-size="11.3" font-weight="normal" text-anchor="start" fill="#000" letter-spacing="0.2">40.11</text>
<line x1="227.1" y1="44.2" x2="242" y2="44.2" stroke="#0000ff" stroke-width="1.5" />
<text x="245.4" y="59.62" font-size="11.3" font-weight="normal" text-anchor="start" fill="#000">C-N</text>
<text x="282.3" y="59.62" font-size="11.3" font-weight="normal" text-anchor="start" fill="#000" letter-spacing="0.2">2.40</text>
<line x1="227.1" y1="57.7" x2="242" y2="57.7" stroke="#ff00ff" stroke-width="1.5" />
<text x="245.4" y="73.18" font-size="11.3" font-weight="normal" text-anchor="start" fill="#000">C=O</text>
<text x="282.5" y="73.18" font-size="11.3" font-weight="normal" text-anchor="start" fill="#000" letter-spacing="0.2">6.34</text>
<line x1="227.1" y1="71.5" x2="242" y2="71.5" stroke="#008000" stroke-width="1.1" />
<text x="245.4" y="86.74" font-size="11.3" font-weight="normal" text-anchor="start" fill="#000">pi-pi*</text>
<text x="282.2" y="86.74" font-size="11.3" font-weight="normal" text-anchor="start" fill="#000" letter-spacing="0.2">1.99</text>
<line x1="227.1" y1="85.5" x2="242" y2="85.5" stroke="#000080" stroke-width="1.1" />
<polyline points="226.5,300.5 227,300.5 227.5,300.5 228,300.5 228.5,300.5 229,300.5 229.5,300.5 230,300.5 230.5,300.5 231,300.5 231.5,300.5 232,300.5 232.5,300.5 233,300.5 233.5,300.5 234,300.5 234.5,300.5 235,300.5 235.5,300.5 236,300.5 236.5,300.5 237,300.5 237.5,300.5 238,300.5 238.5,300.5 239,300.5 239.5,300.5 240,300.5 240.5,300.5 241,300.5 241.5,300.5 242,300.5 242.5,300.5 243,300.5 243.5,300.5 244,300.5 244.5,300.5 245,300.5 245.5,300.5 246,300.5 246.5,300.5 247,300.5 247.5,300.5 248,300.5 248.5,300.5 249,300.5 249.5,300.5 250,300.5 250.5,300.5 251,300.5 251.5,300.5 252,300.5 252.5,300.5 253,300.5 253.5,300.5 254,300.5 254.5,300.5 255,300.5 255.5,300.5 256,300.5 256.5,300.5 257,300.5 257.5,300.5 258,300.5 258.5,300.5 259,300.5 259.5,300.5 260,300.5 260.5,300.5 261,300.5 261.5,300.5 262,300.5 262.5,300.5 263,300.5 263.5,300.5 264,300.5 264.5,300.5 265,300.5 265.5,300.5 266,300.5 266.5,300.5 267,300.5 267.5,300.5 268,300.5 268.5,300.51 269,300.51 269.5,300.51 270,300.51 270.5,300.51 271,300.51 271.5,300.51 272,300.51 272.5,300.51 273,300.51 273.5,300.52 274,300.52 274.5,300.52 275,300.52 275.5,300.52 276,300.53 276.5,300.53 277,300.53 277.5,300.54 278,300.54 278.5,300.54 279,300.55 279.5,300.55 280,300.55 280.5,300.56 281,300.56 281.5,300.57 282,300.57 282.5,300.58 283,300.59 283.5,300.59 284,300.6 284.5,300.61 285,300.61 285.5,300.62 286,300.63 286.5,300.64 287,300.65 287.5,300.66 288,300.67 288.5,300.67 289,300.68 289.5,300.69 290,300.71 290.5,300.72 291,300.73 291.5,300.74 292,300.75 292.5,300.76 293,300.77 293.5,300.78 294,300.79 294.5,300.8 295,300.82 295.5,300.83 296,300.84 296.5,300.85 297,300.86 297.5,300.87 298,300.89 298.5,300.9 299,300.91 299.5,300.92 300,300.93 300.5,300.94 301,300.95 301.5,300.97 302,300.98 302.5,300.99 303,301 303.5,301.02 304,301.03 304.5,301.04 305,301.06 305.5,301.07 306,301.09 306.5,301.1 307,301.12 307.5,301.14 308,301.16 308.5,301.18 309,301.2 309.5,301.22 310,301.24 310.5,301.27 311,301.29 311.5,301.32 312,301.35 312.5,301.38 313,301.41 313.5,301.44 314,301.48 314.5,301.51 315,301.55 315.5,301.58 316,301.62 316.5,301.66 317,301.69 317.5,301.73 318,301.76 318.5,301.79 319,301.82 319.5,301.85 320,301.87 320.5,301.88 321,301.89 321.5,301.89 322,301.88 322.5,301.86 323,301.83 323.5,301.79 324,301.72 324.5,301.64 325,301.53 325.5,301.4 326,301.24 326.5,301.05 327,300.83 327.5,300.56 328,300.25 328.5,299.89 329,299.48 329.5,299.01 330,298.48 330.5,297.88 331,297.2 331.5,296.45 332,295.61 332.5,294.68 333,293.65 333.5,292.52 334,291.28 334.5,289.93 335,288.47 335.5,286.89 336,285.19 336.5,283.36 337,281.41 337.5,279.33 338,277.13 338.5,274.81 339,272.36 339.5,269.81 340,267.15 340.5,264.38 341,261.53 341.5,258.6 342,255.6 342.5,252.54 343,249.45 343.5,246.33 344,243.21 344.5,240.1 345,237.03 345.5,234 346,231.05 346.5,228.19 347,225.45 347.5,222.84 348,220.39 348.5,218.11 349,216.02 349.5,214.14 350,212.49 350.5,211.08 351,209.92 351.5,209.02 352,208.39 352.5,208.04 353,207.97 353.5,208.18 354,208.67 354.5,209.43 355,210.47 355.5,211.76 356,213.31 356.5,215.09 357,217.1 357.5,219.31 358,221.71 358.5,224.29 359,227.01 359.5,229.87 360,232.83 360.5,235.89 361,239.02 361.5,242.19 362,245.39 362.5,248.61 363,251.81 363.5,254.98 364,258.12 364.5,261.19 365,264.19 365.5,267.11 366,269.94 366.5,272.66 367,275.28 367.5,277.77 368,280.15 368.5,282.4 369,284.53 369.5,286.53 370,288.4 370.5,290.15 371,291.78 371.5,293.28 372,294.67 372.5,295.95 373,297.12 373.5,298.19 374,299.17 374.5,300.05 375,300.85 375.5,301.57 376,302.21 376.5,302.79 377,303.3 377.5,303.76 378,304.17 378.5,304.52 379,304.84 379.5,305.12 380,305.36 380.5,305.57 381,305.75 381.5,305.91 382,306.04 382.5,306.16 383,306.26 383.5,306.35 384,306.42 384.5,306.49 385,306.54 385.5,306.58 386,306.62 386.5,306.65 387,306.68 387.5,306.7 388,306.72 388.5,306.73 389,306.75 389.5,306.76 390,306.76 390.5,306.77 391,306.78 391.5,306.78 392,306.79 392.5,306.79 393,306.79 393.5,306.79 394,306.79 394.5,306.8 395,306.8 395.5,306.8 396,306.8 396.5,306.8 397,306.8 397.5,306.8 398,306.8 398.5,306.8 399,306.8 399.5,306.8 400,306.8 400.5,306.8 401,306.8 401.5,306.8 402,306.8 402.5,306.8 403,306.8 403.5,306.8 404,306.8 404.5,306.8 405,306.8 405.5,306.8 406,306.8 406.5,306.8" fill="none" stroke="#ff0000" stroke-width="1.0" stroke-linejoin="round" />
<polyline points="226.5,300.5 227,300.5 227.5,300.5 228,300.5 228.5,300.5 229,300.5 229.5,300.5 230,300.5 230.5,300.5 231,300.5 231.5,300.5 232,300.5 232.5,300.5 233,300.5 233.5,300.5 234,300.5 234.5,300.5 235,300.5 235.5,300.5 236,300.5 236.5,300.5 237,300.5 237.5,300.5 238,300.5 238.5,300.5 239,300.5 239.5,300.5 240,300.5 240.5,300.5 241,300.5 241.5,300.5 242,300.5 242.5,300.5 243,300.5 243.5,300.5 244,300.5 244.5,300.5 245,300.5 245.5,300.5 246,300.5 246.5,300.5 247,300.5 247.5,300.5 248,300.5 248.5,300.5 249,300.5 249.5,300.5 250,300.5 250.5,300.5 251,300.5 251.5,300.5 252,300.5 252.5,300.5 253,300.5 253.5,300.5 254,300.5 254.5,300.5 255,300.5 255.5,300.5 256,300.5 256.5,300.5 257,300.5 257.5,300.5 258,300.5 258.5,300.5 259,300.5 259.5,300.5 260,300.5 260.5,300.5 261,300.5 261.5,300.5 262,300.5 262.5,300.5 263,300.5 263.5,300.5 264,300.5 264.5,300.5 265,300.5 265.5,300.5 266,300.5 266.5,300.5 267,300.5 267.5,300.5 268,300.5 268.5,300.51 269,300.51 269.5,300.51 270,300.51 270.5,300.51 271,300.51 271.5,300.51 272,300.51 272.5,300.51 273,300.51 273.5,300.52 274,300.52 274.5,300.52 275,300.52 275.5,300.52 276,300.53 276.5,300.53 277,300.53 277.5,300.53 278,300.54 278.5,300.54 279,300.54 279.5,300.55 280,300.55 280.5,300.56 281,300.56 281.5,300.57 282,300.57 282.5,300.57 283,300.58 283.5,300.58 284,300.59 284.5,300.59 285,300.59 285.5,300.6 286,300.6 286.5,300.6 287,300.6 287.5,300.6 288,300.59 288.5,300.58 289,300.57 289.5,300.56 290,300.54 290.5,300.52 291,300.48 291.5,300.45 292,300.4 292.5,300.34 293,300.27 293.5,300.19 294,300.09 294.5,299.97 295,299.83 295.5,299.67 296,299.48 296.5,299.26 297,299.01 297.5,298.72 298,298.39 298.5,298.02 299,297.6 299.5,297.12 300,296.59 300.5,295.99 301,295.33 301.5,294.59 302,293.78 302.5,292.88 303,291.9 303.5,290.82 304,289.66 304.5,288.39 305,287.03 305.5,285.56 306,284 306.5,282.33 307,280.55 307.5,278.68 308,276.71 308.5,274.65 309,272.5 309.5,270.26 310,267.96 310.5,265.59 311,263.17 311.5,260.71 312,258.22 312.5,255.72 313,253.21 313.5,250.73 314,248.28 314.5,245.88 315,243.56 315.5,241.32 316,239.18 316.5,237.17 317,235.29 317.5,233.57 318,232.03 318.5,230.66 319,229.49 319.5,228.53 320,227.78 320.5,227.26 321,226.97 321.5,226.91 322,227.08 322.5,227.48 323,228.11 323.5,228.96 324,230.02 324.5,231.3 325,232.76 325.5,234.41 326,236.23 326.5,238.2 327,240.31 327.5,242.53 328,244.86 328.5,247.27 329,249.75 329.5,252.28 330,254.84 330.5,257.42 331,259.99 331.5,262.55 332,265.07 332.5,267.56 333,269.99 333.5,272.35 334,274.64 334.5,276.84 335,278.96 335.5,280.98 336,282.9 336.5,284.73 337,286.44 337.5,288.06 338,289.57 338.5,290.98 339,292.3 339.5,293.51 340,294.63 340.5,295.66 341,296.61 341.5,297.48 342,298.26 342.5,298.98 343,299.64 343.5,300.23 344,300.76 344.5,301.24 345,301.68 345.5,302.07 346,302.42 346.5,302.74 347,303.03 347.5,303.29 348,303.52 348.5,303.73 349,303.92 349.5,304.1 350,304.26 350.5,304.41 351,304.55 351.5,304.67 352,304.79 352.5,304.9 353,305.01 353.5,305.11 354,305.2 354.5,305.29 355,305.37 355.5,305.45 356,305.53 356.5,305.61 357,305.68 357.5,305.75 358,305.81 358.5,305.87 359,305.94 359.5,305.99 360,306.05 360.5,306.1 361,306.15 361.5,306.2 362,306.25 362.5,306.29 363,306.33 363.5,306.37 364,306.41 364.5,306.44 365,306.47 365.5,306.5 366,306.53 366.5,306.56 367,306.58 367.5,306.6 368,306.62 368.5,306.64 369,306.66 369.5,306.67 370,306.69 370.5,306.7 371,306.71 371.5,306.72 372,306.73 372.5,306.74 373,306.75 373.5,306.75 374,306.76 374.5,306.76 375,306.77 375.5,306.77 376,306.78 376.5,306.78 377,306.78 377.5,306.79 378,306.79 378.5,306.79 379,306.79 379.5,306.79 380,306.79 380.5,306.79 381,306.8 381.5,306.8 382,306.8 382.5,306.8 383,306.8 383.5,306.8 384,306.8 384.5,306.8 385,306.8 385.5,306.8 386,306.8 386.5,306.8 387,306.8 387.5,306.8 388,306.8 388.5,306.8 389,306.8 389.5,306.8 390,306.8 390.5,306.8 391,306.8 391.5,306.8 392,306.8 392.5,306.8 393,306.8 393.5,306.8 394,306.8 394.5,306.8 395,306.8 395.5,306.8 396,306.8 396.5,306.8 397,306.8 397.5,306.8 398,306.8 398.5,306.8 399,306.8 399.5,306.8 400,306.8 400.5,306.8 401,306.8 401.5,306.8 402,306.8 402.5,306.8 403,306.8 403.5,306.8 404,306.8 404.5,306.8 405,306.8 405.5,306.8 406,306.8 406.5,306.8" fill="none" stroke="#0000ff" stroke-width="1.1" stroke-linejoin="round" />
<polyline points="226.5,300.5 227,300.5 227.5,300.5 228,300.5 228.5,300.5 229,300.5 229.5,300.5 230,300.5 230.5,300.5 231,300.5 231.5,300.5 232,300.5 232.5,300.5 233,300.5 233.5,300.5 234,300.5 234.5,300.5 235,300.5 235.5,300.5 236,300.5 236.5,300.5 237,300.5 237.5,300.5 238,300.5 238.5,300.5 239,300.5 239.5,300.5 240,300.5 240.5,300.5 241,300.5 241.5,300.5 242,300.5 242.5,300.5 243,300.5 243.5,300.5 244,300.5 244.5,300.5 245,300.5 245.5,300.5 246,300.5 246.5,300.5 247,300.5 247.5,300.5 248,300.5 248.5,300.5 249,300.5 249.5,300.5 250,300.5 250.5,300.5 251,300.5 251.5,300.5 252,300.5 252.5,300.5 253,300.5 253.5,300.5 254,300.5 254.5,300.5 255,300.5 255.5,300.5 256,300.5 256.5,300.5 257,300.5 257.5,300.5 258,300.5 258.5,300.49 259,300.49 259.5,300.49 260,300.49 260.5,300.49 261,300.48 261.5,300.48 262,300.47 262.5,300.47 263,300.46 263.5,300.45 264,300.44 264.5,300.43 265,300.42 265.5,300.4 266,300.39 266.5,300.36 267,300.34 267.5,300.31 268,300.28 268.5,300.24 269,300.19 269.5,300.14 270,300.08 270.5,300.02 271,299.94 271.5,299.86 272,299.77 272.5,299.66 273,299.54 273.5,299.41 274,299.27 274.5,299.1 275,298.93 275.5,298.73 276,298.52 276.5,298.29 277,298.05 277.5,297.78 278,297.49 278.5,297.18 279,296.86 279.5,296.51 280,296.14 280.5,295.75 281,295.35 281.5,294.93 282,294.49 282.5,294.04 283,293.57 283.5,293.1 284,292.62 284.5,292.13 285,291.64 285.5,291.15 286,290.66 286.5,290.18 287,289.71 287.5,289.25 288,288.81 288.5,288.4 289,288 289.5,287.63 290,287.3 290.5,286.99 291,286.73 291.5,286.5 292,286.31 292.5,286.16 293,286.06 293.5,286 294,285.99 294.5,286.03 295,286.11 295.5,286.23 296,286.4 296.5,286.61 297,286.86 297.5,287.15 298,287.48 298.5,287.84 299,288.22 299.5,288.64 300,289.08 300.5,289.54 301,290.02 301.5,290.51 302,291.01 302.5,291.52 303,292.03 303.5,292.54 304,293.05 304.5,293.55 305,294.04 305.5,294.53 306,295 306.5,295.46 307,295.91 307.5,296.33 308,296.74 308.5,297.13 309,297.51 309.5,297.86 310,298.2 310.5,298.51 311,298.81 311.5,299.09 312,299.35 312.5,299.6 313,299.83 313.5,300.04 314,300.24 314.5,300.43 315,300.6 315.5,300.76 316,300.91 316.5,301.05 317,301.18 317.5,301.3 318,301.42 318.5,301.53 319,301.63 319.5,301.73 320,301.82 320.5,301.9 321,301.99 321.5,302.07 322,302.14 322.5,302.22 323,302.28 323.5,302.35 324,302.42 324.5,302.48 325,302.54 325.5,302.6 326,302.65 326.5,302.71 327,302.76 327.5,302.81 328,302.86 328.5,302.91 329,302.95 329.5,303 330,303.04 330.5,303.08 331,303.12 331.5,303.16 332,303.2 332.5,303.24 333,303.27 333.5,303.31 334,303.34 334.5,303.37 335,303.41 335.5,303.44 336,303.47 336.5,303.5 337,303.53 337.5,303.57 338,303.6 338.5,303.63 339,303.67 339.5,303.7 340,303.74 340.5,303.77 341,303.81 341.5,303.85 342,303.89 342.5,303.93 343,303.98 343.5,304.02 344,304.07 344.5,304.12 345,304.17 345.5,304.22 346,304.27 346.5,304.33 347,304.39 347.5,304.45 348,304.51 348.5,304.57 349,304.63 349.5,304.7 350,304.76 350.5,304.83 351,304.9 351.5,304.96 352,305.03 352.5,305.1 353,305.17 353.5,305.24 354,305.31 354.5,305.38 355,305.45 355.5,305.51 356,305.58 356.5,305.64 357,305.71 357.5,305.77 358,305.83 358.5,305.89 359,305.95 359.5,306 360,306.06 360.5,306.11 361,306.16 361.5,306.21 362,306.25 362.5,306.29 363,306.33 363.5,306.37 364,306.41 364.5,306.44 365,306.47 365.5,306.5 366,306.53 366.5,306.56 367,306.58 367.5,306.6 368,306.62 368.5,306.64 369,306.66 369.5,306.67 370,306.69 370.5,306.7 371,306.71 371.5,306.72 372,306.73 372.5,306.74 373,306.75 373.5,306.75 374,306.76 374.5,306.76 375,306.77 375.5,306.77 376,306.78 376.5,306.78 377,306.78 377.5,306.79 378,306.79 378.5,306.79 379,306.79 379.5,306.79 380,306.79 380.5,306.79 381,306.8 381.5,306.8 382,306.8 382.5,306.8 383,306.8 383.5,306.8 384,306.8 384.5,306.8 385,306.8 385.5,306.8 386,306.8 386.5,306.8 387,306.8 387.5,306.8 388,306.8 388.5,306.8 389,306.8 389.5,306.8 390,306.8 390.5,306.8 391,306.8 391.5,306.8 392,306.8 392.5,306.8 393,306.8 393.5,306.8 394,306.8 394.5,306.8 395,306.8 395.5,306.8 396,306.8 396.5,306.8 397,306.8 397.5,306.8 398,306.8 398.5,306.8 399,306.8 399.5,306.8 400,306.8 400.5,306.8 401,306.8 401.5,306.8 402,306.8 402.5,306.8 403,306.8 403.5,306.8 404,306.8 404.5,306.8 405,306.8 405.5,306.8 406,306.8 406.5,306.8" fill="none" stroke="#008000" stroke-width="1.3" stroke-linejoin="round" />
<polyline points="226.5,300.5 227,300.5 227.5,300.5 228,300.5 228.5,300.5 229,300.5 229.5,300.5 230,300.5 230.5,300.5 231,300.5 231.5,300.5 232,300.5 232.5,300.5 233,300.5 233.5,300.5 234,300.5 234.5,300.5 235,300.5 235.5,300.5 236,300.5 236.5,300.5 237,300.5 237.5,300.5 238,300.5 238.5,300.5 239,300.5 239.5,300.5 240,300.5 240.5,300.5 241,300.5 241.5,300.5 242,300.5 242.5,300.5 243,300.5 243.5,300.5 244,300.5 244.5,300.5 245,300.5 245.5,300.5 246,300.5 246.5,300.5 247,300.5 247.5,300.5 248,300.5 248.5,300.5 249,300.5 249.5,300.5 250,300.5 250.5,300.5 251,300.49 251.5,300.49 252,300.49 252.5,300.49 253,300.49 253.5,300.49 254,300.48 254.5,300.48 255,300.48 255.5,300.47 256,300.47 256.5,300.46 257,300.45 257.5,300.45 258,300.44 258.5,300.43 259,300.42 259.5,300.4 260,300.39 260.5,300.37 261,300.36 261.5,300.34 262,300.31 262.5,300.29 263,300.26 263.5,300.24 264,300.2 264.5,300.17 265,300.13 265.5,300.09 266,300.05 266.5,300 267,299.96 267.5,299.9 268,299.85 268.5,299.79 269,299.73 269.5,299.67 270,299.6 270.5,299.54 271,299.47 271.5,299.4 272,299.33 272.5,299.25 273,299.18 273.5,299.11 274,299.04 274.5,298.97 275,298.9 275.5,298.83 276,298.77 276.5,298.7 277,298.65 277.5,298.59 278,298.55 278.5,298.5 279,298.46 279.5,298.43 280,298.41 280.5,298.39 281,298.38 281.5,298.37 282,298.37 282.5,298.38 283,298.4 283.5,298.42 284,298.45 284.5,298.49 285,298.53 285.5,298.58 286,298.64 286.5,298.7 287,298.76 287.5,298.83 288,298.9 288.5,298.98 289,299.06 289.5,299.14 290,299.22 290.5,299.31 291,299.39 291.5,299.48 292,299.56 292.5,299.65 293,299.73 293.5,299.81 294,299.89 294.5,299.97 295,300.04 295.5,300.11 296,300.18 296.5,300.25 297,300.31 297.5,300.37 298,300.43 298.5,300.49 299,300.54 299.5,300.59 300,300.63 300.5,300.68 301,300.72 301.5,300.76 302,300.79 302.5,300.83 303,300.86 303.5,300.89 304,300.92 304.5,300.95 305,300.97 305.5,301 306,301.02 306.5,301.05 307,301.07 307.5,301.1 308,301.12 308.5,301.15 309,301.17 309.5,301.2 310,301.23 310.5,301.26 311,301.29 311.5,301.32 312,301.35 312.5,301.38 313,301.42 313.5,301.45 314,301.49 314.5,301.53 315,301.57 315.5,301.61 316,301.65 316.5,301.7 317,301.74 317.5,301.79 318,301.84 318.5,301.89 319,301.94 319.5,301.99 320,302.05 320.5,302.1 321,302.15 321.5,302.21 322,302.26 322.5,302.31 323,302.37 323.5,302.42 324,302.47 324.5,302.53 325,302.58 325.5,302.63 326,302.68 326.5,302.73 327,302.78 327.5,302.83 328,302.87 328.5,302.92 329,302.96 329.5,303.01 330,303.05 330.5,303.09 331,303.13 331.5,303.16 332,303.2 332.5,303.24 333,303.27 333.5,303.31 334,303.34 334.5,303.37 335,303.41 335.5,303.44 336,303.47 336.5,303.5 337,303.53 337.5,303.57 338,303.6 338.5,303.63 339,303.67 339.5,303.7 340,303.74 340.5,303.77 341,303.81 341.5,303.85 342,303.89 342.5,303.93 343,303.98 343.5,304.02 344,304.07 344.5,304.12 345,304.17 345.5,304.22 346,304.27 346.5,304.33 347,304.39 347.5,304.45 348,304.51 348.5,304.57 349,304.63 349.5,304.7 350,304.76 350.5,304.83 351,304.9 351.5,304.96 352,305.03 352.5,305.1 353,305.17 353.5,305.24 354,305.31 354.5,305.38 355,305.45 355.5,305.51 356,305.58 356.5,305.64 357,305.71 357.5,305.77 358,305.83 358.5,305.89 359,305.95 359.5,306 360,306.06 360.5,306.11 361,306.16 361.5,306.21 362,306.25 362.5,306.29 363,306.33 363.5,306.37 364,306.41 364.5,306.44 365,306.47 365.5,306.5 366,306.53 366.5,306.56 367,306.58 367.5,306.6 368,306.62 368.5,306.64 369,306.66 369.5,306.67 370,306.69 370.5,306.7 371,306.71 371.5,306.72 372,306.73 372.5,306.74 373,306.75 373.5,306.75 374,306.76 374.5,306.76 375,306.77 375.5,306.77 376,306.78 376.5,306.78 377,306.78 377.5,306.79 378,306.79 378.5,306.79 379,306.79 379.5,306.79 380,306.79 380.5,306.79 381,306.8 381.5,306.8 382,306.8 382.5,306.8 383,306.8 383.5,306.8 384,306.8 384.5,306.8 385,306.8 385.5,306.8 386,306.8 386.5,306.8 387,306.8 387.5,306.8 388,306.8 388.5,306.8 389,306.8 389.5,306.8 390,306.8 390.5,306.8 391,306.8 391.5,306.8 392,306.8 392.5,306.8 393,306.8 393.5,306.8 394,306.8 394.5,306.8 395,306.8 395.5,306.8 396,306.8 396.5,306.8 397,306.8 397.5,306.8 398,306.8 398.5,306.8 399,306.8 399.5,306.8 400,306.8 400.5,306.8 401,306.8 401.5,306.8 402,306.8 402.5,306.8 403,306.8 403.5,306.8 404,306.8 404.5,306.8 405,306.8 405.5,306.8 406,306.8 406.5,306.8" fill="none" stroke="#7a00d0" stroke-width="1.1" stroke-linejoin="round" />
<polyline points="226.5,300.5 227,300.5 227.5,300.5 228,300.5 228.5,300.5 229,300.5 229.5,300.5 230,300.5 230.5,300.5 231,300.5 231.5,300.5 232,300.5 232.5,300.5 233,300.5 233.5,300.5 234,300.5 234.5,300.5 235,300.5 235.5,300.5 236,300.5 236.5,300.5 237,300.5 237.5,300.5 238,300.5 238.5,300.5 239,300.5 239.5,300.5 240,300.5 240.5,300.5 241,300.5 241.5,300.5 242,300.5 242.5,300.5 243,300.5 243.5,300.5 244,300.5 244.5,300.5 245,300.5 245.5,300.5 246,300.5 246.5,300.5 247,300.5 247.5,300.5 248,300.5 248.5,300.5 249,300.5 249.5,300.5 250,300.5 250.5,300.5 251,300.5 251.5,300.5 252,300.5 252.5,300.5 253,300.5 253.5,300.5 254,300.5 254.5,300.5 255,300.5 255.5,300.5 256,300.5 256.5,300.5 257,300.5 257.5,300.5 258,300.5 258.5,300.5 259,300.5 259.5,300.5 260,300.5 260.5,300.5 261,300.5 261.5,300.5 262,300.5 262.5,300.5 263,300.5 263.5,300.5 264,300.5 264.5,300.5 265,300.5 265.5,300.5 266,300.5 266.5,300.5 267,300.5 267.5,300.5 268,300.5 268.5,300.51 269,300.51 269.5,300.51 270,300.51 270.5,300.51 271,300.51 271.5,300.51 272,300.51 272.5,300.51 273,300.51 273.5,300.52 274,300.52 274.5,300.52 275,300.52 275.5,300.52 276,300.53 276.5,300.53 277,300.53 277.5,300.54 278,300.54 278.5,300.54 279,300.55 279.5,300.55 280,300.55 280.5,300.56 281,300.56 281.5,300.57 282,300.57 282.5,300.58 283,300.59 283.5,300.59 284,300.6 284.5,300.61 285,300.61 285.5,300.62 286,300.63 286.5,300.64 287,300.65 287.5,300.66 288,300.67 288.5,300.67 289,300.68 289.5,300.69 290,300.7 290.5,300.72 291,300.73 291.5,300.74 292,300.75 292.5,300.76 293,300.77 293.5,300.78 294,300.79 294.5,300.8 295,300.82 295.5,300.83 296,300.84 296.5,300.85 297,300.86 297.5,300.87 298,300.88 298.5,300.9 299,300.91 299.5,300.92 300,300.93 300.5,300.94 301,300.95 301.5,300.96 302,300.98 302.5,300.99 303,301 303.5,301.01 304,301.02 304.5,301.03 305,301.05 305.5,301.06 306,301.07 306.5,301.08 307,301.1 307.5,301.11 308,301.13 308.5,301.14 309,301.15 309.5,301.17 310,301.18 310.5,301.2 311,301.21 311.5,301.22 312,301.23 312.5,301.24 313,301.25 313.5,301.26 314,301.27 314.5,301.27 315,301.27 315.5,301.27 316,301.26 316.5,301.25 317,301.24 317.5,301.21 318,301.19 318.5,301.15 319,301.11 319.5,301.07 320,301.01 320.5,300.95 321,300.87 321.5,300.79 322,300.7 322.5,300.6 323,300.49 323.5,300.37 324,300.24 324.5,300.1 325,299.95 325.5,299.8 326,299.63 326.5,299.46 327,299.28 327.5,299.1 328,298.91 328.5,298.72 329,298.53 329.5,298.34 330,298.15 330.5,297.96 331,297.78 331.5,297.6 332,297.43 332.5,297.28 333,297.13 333.5,297 334,296.88 334.5,296.78 335,296.69 335.5,296.63 336,296.58 336.5,296.55 337,296.55 337.5,296.57 338,296.61 338.5,296.67 339,296.75 339.5,296.85 340,296.98 340.5,297.13 341,297.29 341.5,297.48 342,297.68 342.5,297.9 343,298.13 343.5,298.37 344,298.63 344.5,298.9 345,299.17 345.5,299.46 346,299.74 346.5,300.04 347,300.33 347.5,300.62 348,300.92 348.5,301.21 349,301.49 349.5,301.78 350,302.05 350.5,302.32 351,302.59 351.5,302.84 352,303.09 352.5,303.32 353,303.55 353.5,303.77 354,303.98 354.5,304.18 355,304.37 355.5,304.54 356,304.71 356.5,304.87 357,305.02 357.5,305.16 358,305.3 358.5,305.42 359,305.53 359.5,305.64 360,305.74 360.5,305.83 361,305.92 361.5,306 362,306.07 362.5,306.14 363,306.2 363.5,306.26 364,306.31 364.5,306.36 365,306.4 365.5,306.45 366,306.48 366.5,306.52 367,306.55 367.5,306.57 368,306.6 368.5,306.62 369,306.64 369.5,306.66 370,306.68 370.5,306.69 371,306.7 371.5,306.72 372,306.73 372.5,306.74 373,306.74 373.5,306.75 374,306.76 374.5,306.76 375,306.77 375.5,306.77 376,306.78 376.5,306.78 377,306.78 377.5,306.79 378,306.79 378.5,306.79 379,306.79 379.5,306.79 380,306.79 380.5,306.79 381,306.8 381.5,306.8 382,306.8 382.5,306.8 383,306.8 383.5,306.8 384,306.8 384.5,306.8 385,306.8 385.5,306.8 386,306.8 386.5,306.8 387,306.8 387.5,306.8 388,306.8 388.5,306.8 389,306.8 389.5,306.8 390,306.8 390.5,306.8 391,306.8 391.5,306.8 392,306.8 392.5,306.8 393,306.8 393.5,306.8 394,306.8 394.5,306.8 395,306.8 395.5,306.8 396,306.8 396.5,306.8 397,306.8 397.5,306.8 398,306.8 398.5,306.8 399,306.8 399.5,306.8 400,306.8 400.5,306.8 401,306.8 401.5,306.8 402,306.8 402.5,306.8 403,306.8 403.5,306.8 404,306.8 404.5,306.8 405,306.8 405.5,306.8 406,306.8 406.5,306.8" fill="none" stroke="#ff00ff" stroke-width="1.2" stroke-linejoin="round" />
<polyline points="226.5,300.49 227,300.49 227.5,300.48 228,300.48 228.5,300.48 229,300.48 229.5,300.48 230,300.47 230.5,300.47 231,300.47 231.5,300.46 232,300.46 232.5,300.46 233,300.45 233.5,300.45 234,300.44 234.5,300.44 235,300.43 235.5,300.42 236,300.42 236.5,300.41 237,300.4 237.5,300.39 238,300.38 238.5,300.37 239,300.36 239.5,300.35 240,300.34 240.5,300.33 241,300.32 241.5,300.3 242,300.29 242.5,300.28 243,300.26 243.5,300.25 244,300.23 244.5,300.21 245,300.19 245.5,300.17 246,300.16 246.5,300.14 247,300.12 247.5,300.09 248,300.07 248.5,300.05 249,300.03 249.5,300.01 250,299.98 250.5,299.96 251,299.93 251.5,299.91 252,299.88 252.5,299.86 253,299.83 253.5,299.81 254,299.78 254.5,299.76 255,299.73 255.5,299.7 256,299.68 256.5,299.65 257,299.62 257.5,299.6 258,299.57 258.5,299.54 259,299.51 259.5,299.48 260,299.45 260.5,299.42 261,299.38 261.5,299.35 262,299.31 262.5,299.28 263,299.24 263.5,299.19 264,299.15 264.5,299.1 265,299.05 265.5,299 266,298.94 266.5,298.87 267,298.8 267.5,298.73 268,298.65 268.5,298.56 269,298.46 269.5,298.36 270,298.25 270.5,298.13 271,298 271.5,297.86 272,297.71 272.5,297.55 273,297.38 273.5,297.19 274,296.99 274.5,296.78 275,296.55 275.5,296.31 276,296.06 276.5,295.79 277,295.5 277.5,295.2 278,294.88 278.5,294.54 279,294.19 279.5,293.83 280,293.45 280.5,293.05 281,292.64 281.5,292.22 282,291.79 282.5,291.35 283,290.9 283.5,290.44 284,289.98 284.5,289.52 285,289.05 285.5,288.59 286,288.13 286.5,287.68 287,287.24 287.5,286.81 288,286.39 288.5,285.99 289,285.61 289.5,285.26 290,284.92 290.5,284.62 291,284.34 291.5,284.09 292,283.87 292.5,283.68 293,283.52 293.5,283.39 294,283.29 294.5,283.22 295,283.17 295.5,283.15 296,283.14 296.5,283.15 297,283.17 297.5,283.19 298,283.21 298.5,283.22 299,283.21 299.5,283.19 300,283.13 300.5,283.03 301,282.88 301.5,282.68 302,282.41 302.5,282.07 303,281.65 303.5,281.14 304,280.54 304.5,279.83 305,279.01 305.5,278.08 306,277.04 306.5,275.87 307,274.59 307.5,273.18 308,271.66 308.5,270.02 309,268.26 309.5,266.4 310,264.45 310.5,262.4 311,260.28 311.5,258.09 312,255.85 312.5,253.57 313,251.26 313.5,248.95 314,246.65 314.5,244.38 315,242.16 315.5,240.01 316,237.94 316.5,235.97 317,234.12 317.5,232.4 318,230.83 318.5,229.43 319,228.21 319.5,227.17 320,226.33 320.5,225.69 321,225.26 321.5,225.03 322,225.02 322.5,225.21 323,225.61 323.5,226.2 324,226.98 324.5,227.93 325,229.05 325.5,230.32 326,231.71 326.5,233.23 327,234.84 327.5,236.52 328,238.26 328.5,240.04 329,241.83 329.5,243.61 330,245.37 330.5,247.08 331,248.71 331.5,250.26 332,251.71 332.5,253.03 333,254.22 333.5,255.25 334,256.12 334.5,256.81 335,257.31 335.5,257.62 336,257.73 336.5,257.63 337,257.33 337.5,256.82 338,256.11 338.5,255.19 339,254.08 339.5,252.77 340,251.29 340.5,249.63 341,247.81 341.5,245.85 342,243.76 342.5,241.56 343,239.26 343.5,236.89 344,234.47 344.5,232.01 345,229.54 345.5,227.09 346,224.67 346.5,222.31 347,220.03 347.5,217.86 348,215.81 348.5,213.91 349,212.17 349.5,210.62 350,209.28 350.5,208.15 351,207.26 351.5,206.61 352,206.21 352.5,206.06 353,206.19 353.5,206.58 354,207.23 354.5,208.14 355,209.31 355.5,210.73 356,212.39 356.5,214.28 357,216.38 357.5,218.68 358,221.16 358.5,223.8 359,226.58 359.5,229.5 360,232.51 360.5,235.61 361,238.77 361.5,241.98 362,245.21 362.5,248.45 363,251.68 363.5,254.87 364,258.02 364.5,261.11 365,264.12 365.5,267.06 366,269.89 366.5,272.62 367,275.24 367.5,277.75 368,280.13 368.5,282.38 369,284.51 369.5,286.52 370,288.39 370.5,290.14 371,291.77 371.5,293.28 372,294.67 372.5,295.95 373,297.12 373.5,298.19 374,299.16 374.5,300.05 375,300.85 375.5,301.56 376,302.21 376.5,302.79 377,303.3 377.5,303.76 378,304.17 378.5,304.52 379,304.84 379.5,305.12 380,305.36 380.5,305.57 381,305.75 381.5,305.91 382,306.04 382.5,306.16 383,306.26 383.5,306.35 384,306.42 384.5,306.49 385,306.54 385.5,306.58 386,306.62 386.5,306.65 387,306.68 387.5,306.7 388,306.72 388.5,306.73 389,306.75 389.5,306.76 390,306.76 390.5,306.77 391,306.78 391.5,306.78 392,306.79 392.5,306.79 393,306.79 393.5,306.79 394,306.79 394.5,306.8 395,306.8 395.5,306.8 396,306.8 396.5,306.8 397,306.8 397.5,306.8 398,306.8 398.5,306.8 399,306.8 399.5,306.8 400,306.8 400.5,306.8 401,306.8 401.5,306.8 402,306.8 402.5,306.8 403,306.8 403.5,306.8 404,306.8 404.5,306.8 405,306.8 405.5,306.8 406,306.8 406.5,306.8" fill="none" stroke="#000" stroke-width="1.15" stroke-linejoin="round" />
<line x1="226.5" y1="191.4" x2="226.5" y2="317.2" stroke="#4a4a4a" stroke-width="1.1" />
<line x1="226.1" y1="316.6" x2="407.1" y2="316.6" stroke="#4a4a4a" stroke-width="1.1" />
<line x1="226.5" y1="316.6" x2="226.5" y2="318.4" stroke="#4a4a4a" stroke-width="0.9" />
<line x1="241.5" y1="316.6" x2="241.5" y2="319.2" stroke="#4a4a4a" stroke-width="0.9" />
<text x="241.8" y="327.5" font-size="8.4" font-weight="bold" text-anchor="middle" fill="#000" letter-spacing="-0.25">292</text>
<line x1="256.5" y1="316.6" x2="256.5" y2="318.4" stroke="#4a4a4a" stroke-width="0.9" />
<line x1="271.5" y1="316.6" x2="271.5" y2="319.2" stroke="#4a4a4a" stroke-width="0.9" />
<text x="271.8" y="327.5" font-size="8.4" font-weight="bold" text-anchor="middle" fill="#000" letter-spacing="-0.25">290</text>
<line x1="286.5" y1="316.6" x2="286.5" y2="318.4" stroke="#4a4a4a" stroke-width="0.9" />
<line x1="301.5" y1="316.6" x2="301.5" y2="319.2" stroke="#4a4a4a" stroke-width="0.9" />
<text x="301.8" y="327.5" font-size="8.4" font-weight="bold" text-anchor="middle" fill="#000" letter-spacing="-0.25">288</text>
<line x1="316.5" y1="316.6" x2="316.5" y2="318.4" stroke="#4a4a4a" stroke-width="0.9" />
<line x1="331.5" y1="316.6" x2="331.5" y2="319.2" stroke="#4a4a4a" stroke-width="0.9" />
<text x="331.8" y="327.5" font-size="8.4" font-weight="bold" text-anchor="middle" fill="#000" letter-spacing="-0.25">286</text>
<line x1="346.5" y1="316.6" x2="346.5" y2="318.4" stroke="#4a4a4a" stroke-width="0.9" />
<line x1="361.5" y1="316.6" x2="361.5" y2="319.2" stroke="#4a4a4a" stroke-width="0.9" />
<text x="361.8" y="327.5" font-size="8.4" font-weight="bold" text-anchor="middle" fill="#000" letter-spacing="-0.25">284</text>
<line x1="376.5" y1="316.6" x2="376.5" y2="318.4" stroke="#4a4a4a" stroke-width="0.9" />
<line x1="391.5" y1="316.6" x2="391.5" y2="319.2" stroke="#4a4a4a" stroke-width="0.9" />
<text x="391.8" y="327.5" font-size="8.4" font-weight="bold" text-anchor="middle" fill="#000" letter-spacing="-0.25">282</text>
<line x1="406.5" y1="316.6" x2="406.5" y2="318.4" stroke="#4a4a4a" stroke-width="0.9" />
<text x="317" y="337.75" font-size="8.85" font-weight="bold" text-anchor="middle" fill="#000">Binding energy (eV)</text>
<text transform="translate(220.3,291.8) rotate(-90)" font-size="9.75" font-weight="bold" fill="#000">Intensity (a.u.)</text>
<text x="206.5" y="184.2" font-size="12" font-weight="bold" text-anchor="start" fill="#000" letter-spacing="0.9">d)</text>
<text x="274.9" y="195.75" font-size="11.3" font-weight="normal" text-anchor="start" fill="#000" letter-spacing="-0.45">Area (%)</text>
<text x="244.4" y="209.8" font-size="11.3" font-weight="normal" text-anchor="start" fill="#000">C-C</text>
<text x="276.9" y="209.8" font-size="11.3" font-weight="normal" text-anchor="start" fill="#000" letter-spacing="0.05">49.01</text>
<line x1="228.4" y1="207.4" x2="241" y2="207.4" stroke="#ff0000" stroke-width="1.2" />
<text x="244.4" y="222.9" font-size="11.3" font-weight="normal" text-anchor="start" fill="#000">C-O</text>
<text x="277.4" y="222.9" font-size="11.3" font-weight="normal" text-anchor="start" fill="#000" letter-spacing="0.05">38.19</text>
<line x1="228.4" y1="220.7" x2="241" y2="220.7" stroke="#0000ff" stroke-width="1.3" />
<text x="244.4" y="236" font-size="11.3" font-weight="normal" text-anchor="start" fill="#000">C-N</text>
<text x="283.6" y="236" font-size="11.3" font-weight="normal" text-anchor="start" fill="#000" letter-spacing="0.05">3.01</text>
<line x1="228.4" y1="233.8" x2="241" y2="233.8" stroke="#ff00ff" stroke-width="1.3" />
<text x="244.4" y="249.1" font-size="11.3" font-weight="normal" text-anchor="start" fill="#000">C=O</text>
<text x="284" y="249.1" font-size="11.3" font-weight="normal" text-anchor="start" fill="#000" letter-spacing="0.05">7.52</text>
<line x1="228.4" y1="246.9" x2="241" y2="246.9" stroke="#008000" stroke-width="1.3" />
<text x="244.4" y="262.2" font-size="11.3" font-weight="normal" text-anchor="start" fill="#000">pi-pi*</text>
<text x="282.8" y="262.2" font-size="11.3" font-weight="normal" text-anchor="start" fill="#000" letter-spacing="0.05">2.27</text>
<line x1="228.4" y1="260.1" x2="241" y2="260.1" stroke="#7a00d0" stroke-width="1.2" />
</svg></body></html>
